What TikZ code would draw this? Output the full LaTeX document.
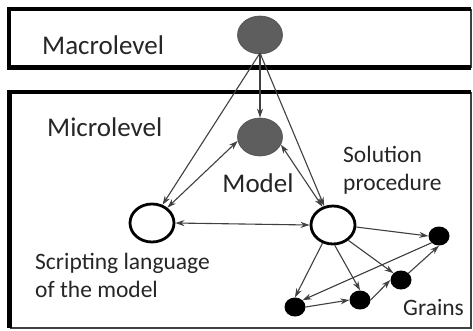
\documentclass[tikz,border=0pt]{standalone}
\usepackage{fontspec}
\setmainfont{Carlito}
\usetikzlibrary{arrows.meta,shapes.geometric}
\begin{document}
\begin{tikzpicture}[x=1pt,y=-1pt,
  thickline/.style={line width=4.5pt,black},
  thinline/.style={line width=1.6pt,black!75},
  graynode/.style={ellipse,fill=black!63,draw=black!70,line width=0.6pt,minimum width=45pt,minimum height=38pt,inner sep=0pt},
  whitenode/.style={ellipse,fill=white,draw=black,line width=2.8pt,minimum width=44pt,minimum height=38pt,inner sep=0pt},
  grain/.style={ellipse,fill=black,minimum width=21pt,minimum height=19pt,inner sep=0pt},
  conn/.style={draw=black!75,line width=1.1pt,-{Stealth[length=9pt,width=6pt]}},
  biconn/.style={draw=black!75,line width=1.1pt,{Stealth[length=9pt,width=6pt]}-{Stealth[length=9pt,width=6pt]}},
  biglabel/.style={font=\fontsize{27}{30}\selectfont,text=black!85,inner sep=0pt},
  smalllabel/.style={font=\fontsize{23.5}{28}\selectfont,text=black!85,inner sep=0pt,align=left}
]
\useasboundingbox (0,0) rectangle (473,330);
\fill[white] (0,0) rectangle (473,330);
% top box
\draw[thinline] (471,9) -- (471,67.5);
\draw[thickline] (471,9) -- (9,9) -- (9,67.5) -- (471,67.5);
% bottom box
\draw[thinline] (471,92) -- (471,328) -- (9.5,328);
\draw[thickline] (471,92) -- (9.5,92) -- (9.5,328);

\node[biglabel,anchor=west] (macrotxt) at (42,45) {Macrolevel};
\node[biglabel,anchor=west] (microtxt) at (47,127) {Microlevel};

\node[graynode] (macro) at (260,35) {};
\node[graynode] (model) at (260,137) {};
\node[biglabel] (modeltxt) at (258,183) {Model};
\node[whitenode] (script) at (152,223) {};
\node[whitenode] (sol) at (333,225) {};
\node[smalllabel,anchor=north west] (soltxt) at (343,146) {Solution\\procedure};
\node[smalllabel,anchor=north west] (scripttxt) at (35,253) {Scripting language\\of the model};

\node[grain] (g1) at (439,236) {};
\node[grain] (g2) at (401,280) {};
\node[grain] (g3) at (360,300) {};
\node[grain] (g4) at (295,307) {};
\node[smalllabel,anchor=west] (graintxt) at (403,307) {Grains};

\coordinate (mb) at (260,53);
\draw[conn] (mb) -- (script.60);
\draw[conn] (mb) -- (model.north);
\draw[conn] (mb) -- (sol.115);
\draw[biconn] (model.190) -- (script.45);
\draw[biconn] (model.-20) -- (sol.120);
\draw[biconn] (script.east) -- (sol.west);
\draw[conn] (sol.-5) -- (g1.west);
\draw[conn] (sol.-45) -- (g2.north west);
\draw[conn] (sol.-85) -- (g3.north);
\draw[conn] (sol.-120) -- (g4.north);
\draw[conn] (g1.south west) -- (g4.north east);
\draw[conn] (g4.east) -- (g3.west);
\draw[conn] (g3.east) -- (g2.west);
\draw[conn] (g2.north east) -- (g1.south);
\end{tikzpicture}
\end{document}
